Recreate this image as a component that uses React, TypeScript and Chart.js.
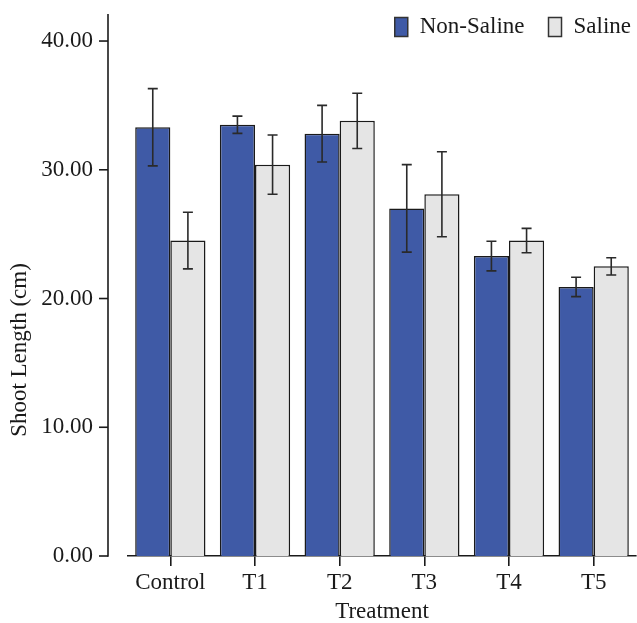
import { useEffect, useRef } from "react";
import { Chart, registerables } from "chart.js";

Chart.register(...registerables);

const categories = ["Control", "T1", "T2", "T3", "T4", "T5"];
const seriesNames = ["Non-Saline", "Saline"];
const nonSaline = [33.3, 33.5, 32.8, 27.0, 23.3, 20.9];
const nonSalineErr = [3.0, 0.67, 2.2, 3.4, 1.15, 0.75];
const saline = [24.5, 30.4, 33.8, 28.1, 24.5, 22.5];
const salineErr = [2.2, 2.3, 2.15, 3.3, 0.95, 0.67];
const yTicks = [0, 10, 20, 30, 40];
const yMax = 42.1;
const xTitle = "Treatment";
const yTitle = "Shoot Length (cm)";

const FONT = "'Liberation Serif', 'Times New Roman', serif";
const FS = 23;
const INK = "#1a1a1a";
const BLUE = "#3f5aa6";
const GREY = "#e5e5e5";

const overlay = {
  id: "overlay",
  afterDatasetsDraw(chart: any) {
    const ctx = chart.ctx;
    const y = chart.scales.y;
    ctx.save();
    ctx.strokeStyle = "#2a2a2a";
    ctx.lineWidth = 1.6;
    chart.data.datasets.forEach((ds: any, i: number) => {
      const meta = chart.getDatasetMeta(i);
      meta.data.forEach((bar: any, j: number) => {
        const v = ds.data[j];
        const e = ds.errors[j];
        const yt = y.getPixelForValue(v + e);
        const yb = y.getPixelForValue(v - e);
        const cap = 5;
        ctx.beginPath();
        ctx.moveTo(bar.x, yt);
        ctx.lineTo(bar.x, yb);
        ctx.moveTo(bar.x - cap, yt);
        ctx.lineTo(bar.x + cap, yt);
        ctx.moveTo(bar.x - cap, yb);
        ctx.lineTo(bar.x + cap, yb);
        ctx.stroke();
      });
    });
    ctx.restore();
  },
  afterDraw(chart: any) {
    const ctx = chart.ctx;
    const area = chart.chartArea;
    const y = chart.scales.y;
    const axisX = area.left - 20;
    ctx.save();
    ctx.strokeStyle = INK;
    ctx.lineWidth = 1.6;
    ctx.beginPath();
    ctx.moveTo(axisX, area.top);
    ctx.lineTo(axisX, area.bottom + 0.8);
    ctx.stroke();
    y.ticks.forEach((t: any) => {
      const py = y.getPixelForValue(t.value);
      ctx.beginPath();
      ctx.moveTo(axisX - 9, py);
      ctx.lineTo(axisX, py);
      ctx.stroke();
    });
    ctx.fillStyle = INK;
    ctx.font = `${FS}px ${FONT}`;
    ctx.textAlign = "center";
    ctx.textBaseline = "middle";
    ctx.translate(20, 350);
    ctx.rotate(-Math.PI / 2);
    ctx.fillText(yTitle, 0, 0);
    ctx.restore();

    // legend
    ctx.save();
    ctx.font = `${FS}px ${FONT}`;
    ctx.textBaseline = "middle";
    ctx.textAlign = "left";
    const boxW = 13;
    const boxH = 19;
    const gap = 12;
    const itemGap = 24;
    const ds = chart.data.datasets;
    const widths = ds.map((d: any) => boxW + gap + ctx.measureText(d.label).width);
    const total = widths.reduce((a: number, b: number) => a + b, 0) + itemGap * (ds.length - 1);
    let x = area.right - 5 - total;
    const cy = 27;
    ds.forEach((d: any, i: number) => {
      ctx.fillStyle = d.backgroundColor;
      ctx.fillRect(x, cy - boxH / 2, boxW, boxH);
      ctx.strokeStyle = "#333";
      ctx.lineWidth = 1.5;
      ctx.strokeRect(x, cy - boxH / 2, boxW, boxH);
      ctx.fillStyle = INK;
      ctx.fillText(d.label, x + boxW + gap, cy);
      x += widths[i] + itemGap;
    });
    ctx.restore();
  },
};

export default function App() {
  const ref = useRef<HTMLCanvasElement>(null);
  useEffect(() => {
    if (!ref.current) return;
    Chart.defaults.font.family = FONT;
    const chart = new Chart(ref.current, {
      type: "bar",
      data: {
        labels: categories,
        datasets: [
          {
            label: seriesNames[0],
            data: nonSaline,
            errors: nonSalineErr,
            backgroundColor: BLUE,
            borderColor: INK,
            borderWidth: 1.5,
            categoryPercentage: 0.83,
            barPercentage: 1,
          } as any,
          {
            label: seriesNames[1],
            data: saline,
            errors: salineErr,
            backgroundColor: GREY,
            borderColor: INK,
            borderWidth: 1.5,
            categoryPercentage: 0.83,
            barPercentage: 1,
          } as any,
        ],
      },
      options: {
        animation: false,
        responsive: false,
        layout: { padding: { top: 14, right: 1, left: 0, bottom: 0 } },
        plugins: { legend: { display: false }, tooltip: { enabled: false } },
        scales: {
          x: {
            grid: {
              display: true,
              drawOnChartArea: false,
              drawTicks: true,
              tickLength: 10,
              offset: false,
              color: INK,
              lineWidth: 1.6,
            },
            border: { display: true, color: INK, width: 1.6 },
            ticks: { color: INK, font: { size: FS }, padding: 3, maxRotation: 0, autoSkip: false },
            title: {
              display: true,
              text: xTitle,
              color: INK,
              font: { size: FS, lineHeight: 1 },
              padding: { top: 0, bottom: 0 },
            },
            afterFit: (s: any) => {
              s.height = 67;
              s.paddingLeft = 0;
              s.paddingRight = 0;
            },
          },
          y: {
            min: 0,
            max: yMax,
            grid: { display: false, drawTicks: false },
            border: { display: false },
            ticks: {
              color: INK,
              font: { size: FS },
              padding: 35,
              callback: (v: any) => Number(v).toFixed(2),
            },
            afterBuildTicks: (s: any) => {
              s.ticks = yTicks.map((v) => ({ value: v }));
            },
            afterFit: (s: any) => {
              s.width = 128;
              s.paddingTop = 0;
              s.paddingBottom = 0;
            },
          },
        },
      } as any,
      plugins: [overlay],
    });
    return () => chart.destroy();
  }, []);
  return (
    <div style={{ position: "fixed", left: 0, top: 0, width: 637, height: 623, background: "#fff" }}>
      <canvas ref={ref} width={637} height={623} style={{ width: 637, height: 623 }} />
    </div>
  );
}
